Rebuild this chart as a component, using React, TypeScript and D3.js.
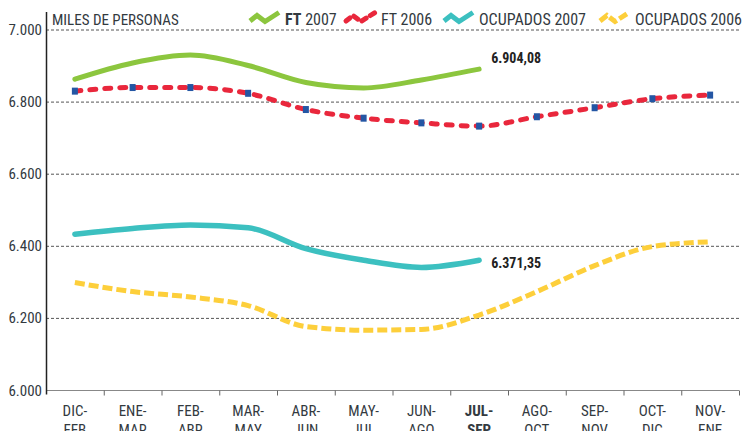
import React, { useEffect, useRef } from 'react';
import * as d3 from 'd3';

const periods = ['DIC-FEB', 'ENE-MAR', 'FEB-ABR', 'MAR-MAY', 'ABR-JUN', 'MAY-JUL', 'JUN-AGO', 'JUL-SEP', 'AGO-OCT', 'SEP-NOV', 'OCT-DIC', 'NOV-ENE'];
const ft2007 = [6862, 6907, 6929, 6900, 6853, 6838, 6860, 6890];
const ft2006 = [6829, 6839, 6839, 6823, 6778, 6754, 6741, 6732, 6758, 6783, 6808, 6818];
const ocupados2007 = [6432, 6448, 6458, 6450, 6392, 6360, 6340, 6360];
const ocupados2006 = [6298, 6273, 6258, 6234, 6176, 6166, 6168, 6208, 6273, 6345, 6398, 6411];
const yTicks = [6000, 6200, 6400, 6600, 6800, 7000];
const endLabels = ['6.904,08', '6.371,35'];

const FONT = '"Liberation Sans Narrow", "Roboto Condensed", "Liberation Sans", sans-serif';

const GREEN = '#8cc63e';
const RED = '#e9273c';
const BLUE = '#2456a4';
const TEAL = '#3cc0c0';
const YELLOW = '#fdcf3b';
const TEXT = '#333a3f';

const width = 742;
const height = 431;
const marginLeft = 46;
const marginRight = 3;
const marginTop = 29.5;
const marginBottom = 41;

const App: React.FC = () => {
    const svgRef = useRef<SVGSVGElement | null>(null);

    useEffect(() => {
        const svg = d3.select(svgRef.current);
        svg.selectAll('*').remove();

        const x = d3.scaleBand<string>().domain(periods).range([marginLeft, width - marginRight]);
        const y = d3.scaleLinear().domain([6000, 7000]).range([height - marginBottom, marginTop]);
        const cx = (i: number) => (x(periods[i]) as number) + x.bandwidth() / 2;

        // grid
        svg.append('g')
            .selectAll('line')
            .data(yTicks.filter(d => d > 6000))
            .join('line')
            .attr('x1', marginLeft)
            .attr('x2', width - marginRight)
            .attr('y1', d => y(d) + 0.5)
            .attr('y2', d => y(d) + 0.5)
            .attr('stroke', '#555')
            .attr('stroke-width', 1)
            .attr('stroke-dasharray', '3,2');

        // y labels
        svg.append('g')
            .selectAll('text')
            .data(yTicks)
            .join('text')
            .attr('x', 42)
            .attr('y', d => y(d) + 5.5)
            .attr('text-anchor', 'end')
            .attr('font-family', FONT)
            .attr('font-size', 15)
            .attr('fill', TEXT)
            .text(d => d3.format(',')(d).replace(',', '.'));

        // x axis
        const xb = height - marginBottom + 0.5;
        svg.append('line')
            .attr('x1', marginLeft).attr('x2', width - marginRight)
            .attr('y1', xb).attr('y2', xb)
            .attr('stroke', '#888').attr('stroke-width', 1);
        svg.append('g')
            .selectAll('line')
            .data(periods)
            .join('line')
            .attr('x1', d => (x(d) as number) + x.bandwidth() + 0.5)
            .attr('x2', d => (x(d) as number) + x.bandwidth() + 0.5)
            .attr('y1', xb)
            .attr('y2', xb + 5)
            .attr('stroke', '#666');

        const xl = svg.append('g')
            .selectAll('text')
            .data(periods)
            .join('text')
            .attr('x', d => (x(d) as number) + x.bandwidth() / 2)
            .attr('y', 416)
            .attr('text-anchor', 'middle')
            .attr('font-family', FONT)
            .attr('font-size', 15)
            .attr('font-weight', d => d === 'JUL-SEP' ? 'bold' : 'normal')
            .attr('fill', TEXT);
        xl.append('tspan').text(d => d.split('-')[0] + '-');
        xl.append('tspan')
            .attr('x', d => (x(d) as number) + x.bandwidth() / 2)
            .attr('dy', 19)
            .text(d => d.split('-')[1]);

        // y axis line
        svg.append('line')
            .attr('x1', marginLeft + 0.5).attr('x2', marginLeft + 0.5)
            .attr('y1', 12).attr('y2', xb + 4)
            .attr('stroke', '#222').attr('stroke-width', 1.5);

        const line = d3.line<number>()
            .x((_, i) => cx(i))
            .y(d => y(d))
            .curve(d3.curveMonotoneX);

        svg.append('path')
            .attr('d', line(ocupados2006))
            .attr('fill', 'none')
            .attr('stroke', YELLOW)
            .attr('stroke-width', 5)
            .attr('stroke-dasharray', '10,4');

        svg.append('path')
            .attr('d', line(ocupados2007))
            .attr('fill', 'none')
            .attr('stroke', TEAL)
            .attr('stroke-width', 5.5)
            .attr('stroke-linecap', 'round');

        svg.append('path')
            .attr('d', line(ft2007))
            .attr('fill', 'none')
            .attr('stroke', GREEN)
            .attr('stroke-width', 5)
            .attr('stroke-linecap', 'round');

        svg.append('path')
            .attr('d', line(ft2006))
            .attr('fill', 'none')
            .attr('stroke', RED)
            .attr('stroke-width', 5)
            .attr('stroke-linecap', 'round')
            .attr('stroke-dasharray', '6,9');

        svg.append('g')
            .selectAll('rect')
            .data(ft2006)
            .join('rect')
            .attr('x', (_, i) => cx(i) - 3)
            .attr('y', d => y(d) - 3.5)
            .attr('width', 6)
            .attr('height', 7)
            .attr('fill', BLUE);

        // end labels
        const endVals = [ft2007[ft2007.length - 1], ocupados2007[ocupados2007.length - 1]];
        const endIdx = ft2007.length - 1;
        svg.append('g')
            .selectAll('text')
            .data(endLabels)
            .join('text')
            .attr('x', cx(endIdx) + 12)
            .attr('y', (_, i) => y(endVals[i]) + (i === 0 ? -6 : 8))
            .attr('font-family', FONT)
            .attr('font-size', 14)
            .attr('font-weight', 'bold')
            .attr('fill', '#222')
            .text(d => d);

        // title
        svg.append('text')
            .attr('x', 52).attr('y', 25)
            .attr('font-family', FONT)
            .attr('font-size', 15)
            .attr('fill', TEXT)
            .text('MILES DE PERSONAS');

        // legend
        const legend = [
            { label: ['FT', ' 2007'], color: GREEN, x: 250, dash: null, cap: 'butt' },
            { label: ['', 'FT 2006'], color: RED, x: 346, dash: '5,5', cap: 'round' },
            { label: ['', 'OCUPADOS 2007'], color: TEAL, x: 444, dash: null, cap: 'butt' },
            { label: ['', 'OCUPADOS 2006'], color: YELLOW, x: 600, dash: '9,3', cap: 'butt' },
        ];
        const icon = d3.line<[number, number]>();
        const lg = svg.append('g')
            .selectAll('g')
            .data(legend)
            .join('g')
            .attr('transform', d => `translate(${d.x},0)`);
        lg.append('path')
            .attr('d', icon([[0, 21], [7, 15.5], [15, 21.5], [29, 12.5]]))
            .attr('fill', 'none')
            .attr('stroke', d => d.color)
            .attr('stroke-width', 5)
            .attr('stroke-linecap', d => d.cap)
            .attr('stroke-dasharray', d => d.dash);
        const lt = lg.append('text')
            .attr('x', 35)
            .attr('y', 25)
            .attr('font-family', FONT)
            .attr('font-size', 16)
            .attr('fill', TEXT);
        lt.append('tspan').attr('font-weight', 'bold').text(d => d.label[0]);
        lt.append('tspan').text(d => d.label[1]);
    }, []);

    return <svg ref={svgRef} viewBox={`0 0 ${width} ${height}`} width={width} height={height} style={{ position: 'absolute', left: 0, top: 0 }}></svg>;
};

export default App;
